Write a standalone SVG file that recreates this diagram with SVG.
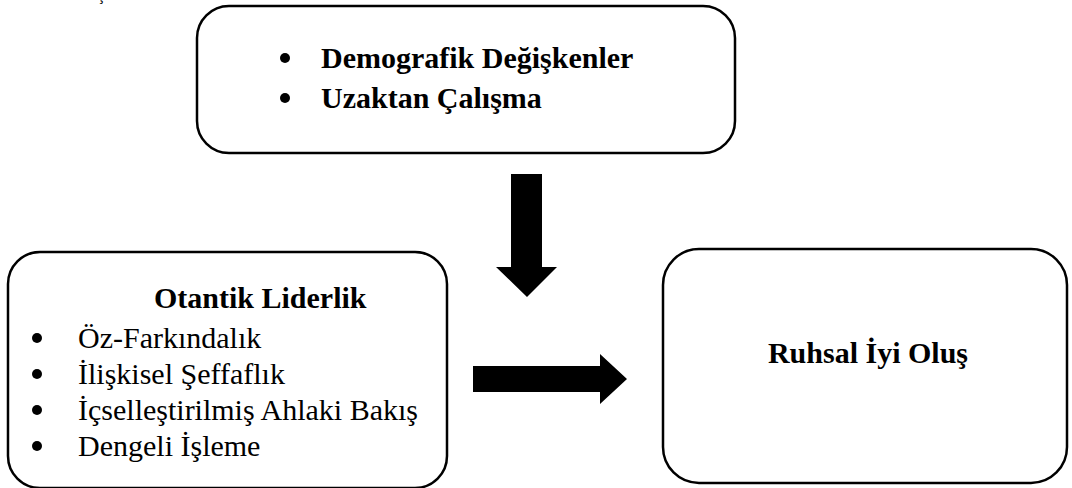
<svg xmlns="http://www.w3.org/2000/svg" width="1072" height="488" viewBox="0 0 1072 488">
<style>
.box{fill:#fff;stroke:#000;stroke-width:2.5}
.b{font-family:"Liberation Serif","Times New Roman",serif;font-weight:bold;font-size:30px;fill:#000}
.r{font-family:"Liberation Serif","Times New Roman",serif;font-size:30px;fill:#000}
.dot{fill:#000}
.arr{fill:#000}
</style>
<rect width="1072" height="488" fill="#fff"/>
<text class="r" x="97" y="0" style="font-size:16px">Ş</text>
<g id="top">
<rect class="box" x="197" y="6" width="538" height="147" rx="32"/>
<circle class="dot" cx="285" cy="58" r="5"/>
<text class="b" x="321" y="68">Demografik Değişkenler</text>
<circle class="dot" cx="285" cy="98" r="5"/>
<text class="b" x="321" y="108">Uzaktan Çalışma</text>
</g>
<g id="left">
<rect class="box" x="8" y="252" width="439" height="236" rx="32"/>
<text class="b" x="154" y="308">Otantik Liderlik</text>
<circle class="dot" cx="37" cy="338" r="5"/>
<text class="r" x="78" y="348">Öz-Farkındalık</text>
<circle class="dot" cx="37" cy="374" r="5"/>
<text class="r" x="78" y="384">İlişkisel Şeffaflık</text>
<circle class="dot" cx="37" cy="410" r="5"/>
<text class="r" x="78" y="420">İçselleştirilmiş Ahlaki Bakış</text>
<circle class="dot" cx="37" cy="446" r="5"/>
<text class="r" x="78" y="456">Dengeli İşleme</text>
</g>
<g id="right">
<rect class="box" x="663" y="249" width="404" height="234" rx="36"/>
<text class="b" x="868" y="363" text-anchor="middle">Ruhsal İyi Oluş</text>
</g>
<g id="connectors">
<path class="arr" d="M511 174H542V267H557L527 297L496 267H511Z"/>
<path class="arr" d="M473 366H600V354L627 379L600 404V392H473Z"/>
</g>
</svg>
